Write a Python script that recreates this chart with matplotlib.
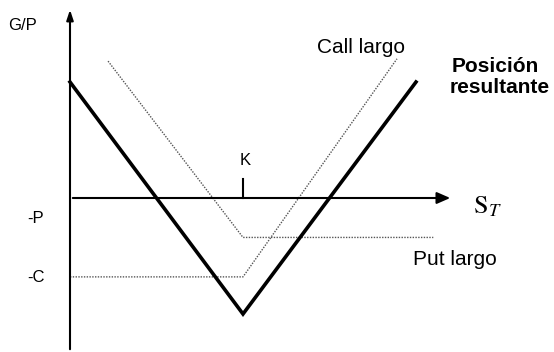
import matplotlib
matplotlib.use("Agg")
import matplotlib.pyplot as plt

plt.rcParams['font.family'] = ['Liberation Sans', 'DejaVu Sans']
plt.rcParams['mathtext.fontset'] = 'stix'

# payoff vertices (S_T, G/P)
K = 100
res_x = [0, 100, 200]
res_y = [50, -50, 50]
put_x = [22, 100, 210]
put_y = [59, -17, -17]
call_x = [0, 100, 189]
call_y = [-34, -34, 60]

# pixel scale of the drawing
W, H = 554, 352
ox, oy = 70, 198          # origin in pixels
sx, sy = 1.73, 2.32       # pixels per unit

fig = plt.figure(figsize=(W / 100, H / 100), dpi=100)
ax = fig.add_axes([0, 0, 1, 1])
ax.set_xlim(-ox / sx, (W - ox) / sx)
ax.set_ylim(-(H - oy) / sy, oy / sy)
ax.axis('off')

# axes with arrows
ax.annotate('', xy=((453 - ox) / sx, 0), xytext=(0, 0),
            arrowprops=dict(arrowstyle='-|>,head_length=0.8,head_width=0.35', color='black', lw=1.5))
ax.annotate('', xy=(0, (oy - 7) / sy), xytext=(0, -(H - oy) / sy),
            arrowprops=dict(arrowstyle='-|>,head_length=0.6,head_width=0.2', color='black', lw=1.5))
ax.plot([K, K], [0, (oy - 179) / sy], color='black', lw=1.5)

# payoff lines
ax.plot(put_x, put_y, color='#555555', lw=1, linestyle=(0, (1, 1)))
ax.plot(call_x, call_y, color='#555555', lw=1, linestyle=(0, (1, 1)))
ax.plot(res_x, res_y, color='black', lw=2.6, solid_joinstyle='miter')

def px(x, y):
    return x / W, 1 - y / H

t = ax.transAxes
ax.text(*px(8, 30), 'G/P', transform=t, fontsize=12)
ax.text(*px(27, 223), '-P', transform=t, fontsize=12)
ax.text(*px(27, 282), '-C', transform=t, fontsize=12)
ax.text(*px(245, 165), 'K', transform=t, fontsize=12, ha='center')
ax.text(*px(317, 53), 'Call largo', transform=t, fontsize=15)
ax.text(*px(413, 265), 'Put largo', transform=t, fontsize=15)
ax.text(*px(452, 72), 'Posición', transform=t, fontsize=15, fontweight='bold')
ax.text(*px(450, 93), 'resultante', transform=t, fontsize=15, fontweight='bold')
ax.text(*px(473, 213), r'$\mathrm{S}_{T}$', transform=t, fontsize=19)

fig.savefig('out.png', dpi=100)
